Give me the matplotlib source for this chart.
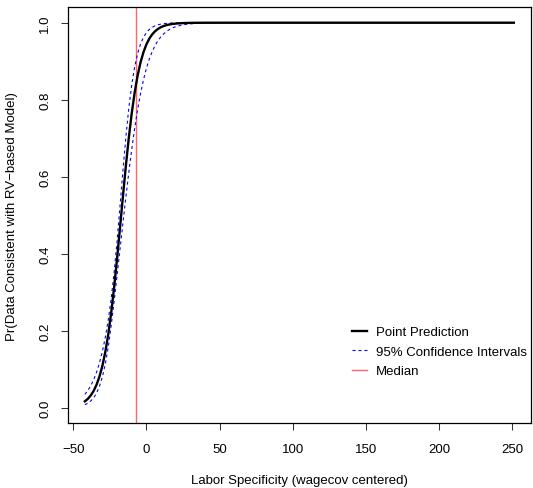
import matplotlib
matplotlib.use("Agg")
import matplotlib.pyplot as plt

plt.rcParams['font.family'] = ['Liberation Sans', 'DejaVu Sans']

# Labor specificity (wagecov centered) values
x_vals = [-42, -40, -38, -36, -34, -32, -30, -28, -26, -24, -22, -20, -18, -16,
          -14, -12, -10, -8, -6, -4, -2, 0, 2, 4, 6, 8, 10, 12, 14, 16, 18, 20,
          24, 28, 32, 40, 60, 100, 150, 200, 251]

# Point prediction
point_pred = [0.0170, 0.0234, 0.0322, 0.0441, 0.0602, 0.0816, 0.1096, 0.1459,
              0.1915, 0.2475, 0.3133, 0.3875, 0.4673, 0.5488, 0.6281, 0.7008,
              0.7645, 0.8183, 0.8621, 0.8966, 0.9232, 0.9434, 0.9586, 0.9698,
              0.9780, 0.9841, 0.9885, 0.9917, 0.9940, 0.9956, 0.9969, 0.9977,
              0.9988, 0.9994, 0.9997, 0.9999, 1.0000, 1.0, 1.0, 1.0, 1.0]

# Upper 95% confidence bound
ci_upper = [0.0351, 0.0449, 0.0573, 0.0729, 0.0926, 0.1170, 0.1470, 0.1839,
            0.2288, 0.2842, 0.3516, 0.4329, 0.5235, 0.6161, 0.7027, 0.7776,
            0.8382, 0.8850, 0.9194, 0.9444, 0.9619, 0.9741, 0.9824, 0.9881,
            0.9920, 0.9946, 0.9964, 0.9976, 0.9984, 0.9989, 0.9993, 0.9995,
            0.9998, 0.9999, 1.0000, 1.0, 1.0, 1.0, 1.0, 1.0, 1.0]

# Lower 95% confidence bound
ci_lower = [0.0082, 0.0121, 0.0179, 0.0263, 0.0386, 0.0562, 0.0809, 0.1147,
            0.1591, 0.2142, 0.2773, 0.3439, 0.4119, 0.4798, 0.5469, 0.6109,
            0.6707, 0.7252, 0.7739, 0.8157, 0.8514, 0.8810, 0.9053, 0.9252,
            0.9412, 0.9538, 0.9639, 0.9718, 0.9780, 0.9829, 0.9867, 0.9897,
            0.9938, 0.9963, 0.9977, 0.9992, 0.9999, 1.0, 1.0, 1.0, 1.0]

median_x = -6.8

x_ticks = [-50, 0, 50, 100, 150, 200, 250]
y_ticks = [0.0, 0.2, 0.4, 0.6, 0.8, 1.0]
y_tick_labels = ["0.0", "0.2", "0.4", "0.6", "0.8", "1.0"]

W, H = 533, 489
fig = plt.figure(figsize=(W / 100, H / 100), dpi=100)
left, right, top, bottom = 67.7, 531, 8.3, 424.3
ax = fig.add_axes([left / W, (H - bottom) / H, (right - left) / W, (bottom - top) / H])

fs = 9.5
ax.plot(x_vals, point_pred, color='black', lw=1.7, label='Point Prediction', zorder=3)
ax.plot(x_vals, ci_upper, color='#0000ff', lw=0.8, dashes=(2.7, 2.7),
        label='95% Confidence Intervals', zorder=2)
ax.plot(x_vals, ci_lower, color='#0000ff', lw=0.8, dashes=(2.7, 2.7), zorder=2)
ax.axvline(median_x, color='#ff6666', lw=1.0, label='Median', zorder=1)

xmin, xmax = min(x_vals), max(x_vals)
r = xmax - xmin
ax.set_xlim(xmin - 0.04 * r, xmax + 0.04 * r)
ax.set_ylim(-0.04, 1.04)

ax.set_xticks(x_ticks)
ax.set_xticklabels([str(t).replace('-', '\u2212') for t in x_ticks])
ax.set_yticks(y_ticks)
ax.set_yticklabels(y_tick_labels, rotation=90, va='center')
ax.tick_params(direction='out', length=5, width=0.75, labelsize=fs, color='#333333')
ax.tick_params(axis='x', pad=9)
ax.tick_params(axis='y', pad=7)

for s in ax.spines.values():
    s.set_linewidth(0.9)

ax.set_xlabel('Labor Specificity (wagecov centered)', fontsize=fs, va='center')
ax.set_ylabel('Pr(Data Consistent with RV\u2212based Model)', fontsize=fs, va='center')
ax.xaxis.set_label_coords(0.5, (bottom - 481.5) / (bottom - top))
ax.yaxis.set_label_coords((12 - left) / (right - left), 0.5)

leg = ax.legend(loc='upper left', bbox_to_anchor=((352 - left) / (right - left), (bottom - 327) / (bottom - top)),
                frameon=False, fontsize=fs, handlelength=1.1, handletextpad=0.7,
                labelspacing=0.55, borderaxespad=0, borderpad=0)

fig.savefig('out.png', dpi=100)
